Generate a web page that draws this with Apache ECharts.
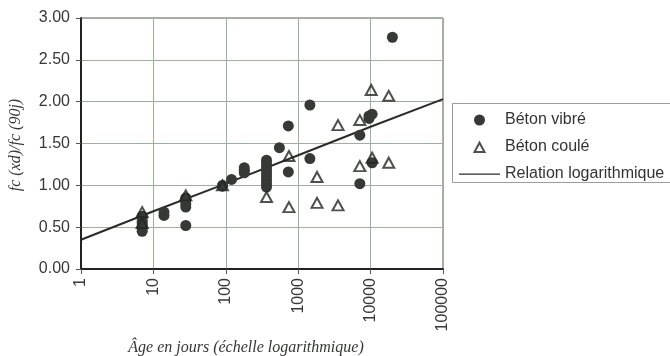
<!DOCTYPE html>
<html>
<head>
<meta charset="utf-8">
<script src="https://cdn.jsdelivr.net/npm/echarts@6/dist/echarts.min.js"></script>
<style>
html,body{margin:0;padding:0;background:#fff;}
#chart{width:670px;height:356px;}
</style>
</head>
<body>
<div id="chart"></div>
<script>
// Béton vibré (circles)
var vibreAge   = [7,7,7,7,7,7,7, 14,14, 28,28,28,28,28, 90,90, 120, 180,180,180, 365,365,365,365,365,365,365,365,365, 550, 730,730, 1450,1450, 7100,7100, 9500,9500, 10500,10500, 20000];
var vibreRatio = [0.45,0.48,0.51,0.54,0.57,0.60,0.63, 0.64,0.68, 0.52,0.74,0.78,0.82,0.85, 1.00,0.99, 1.07, 1.15,1.18,1.21, 0.98,1.02,1.06,1.10,1.14,1.18,1.22,1.26,1.30, 1.45, 1.71,1.16, 1.96,1.32, 1.60,1.02, 1.80,1.83, 1.85,1.27, 2.77];
// Béton coulé (triangles)
var couleAge   = [7,7, 28, 90, 365, 745,745, 1820,1820, 3550,3550, 7100,7100, 10200,10500, 17800,17800];
var couleRatio = [0.68,0.55, 0.88, 1.00, 0.86, 1.35,0.74, 1.10,0.79, 1.72,0.76, 1.78,1.23, 2.14,1.33, 2.07,1.27];
// Relation logarithmique
var logAge   = [1,10,100,1000,10000,100000];
var logRatio = [0.35,0.69,1.02,1.36,1.70,2.03];

var yTicks = ['0.00','0.50','1.00','1.50','2.00','2.50','3.00'];

function pairs(a,b){var r=[];for(var i=0;i<a.length;i++)r.push([a[i],b[i]]);return r;}

var chart = echarts.init(document.getElementById('chart'), null, {renderer:'canvas'});
chart.setOption({
  animation:false,
  backgroundColor:'#fff',
  grid:{left:81,right:227,top:18,bottom:87,show:true,borderColor:'#5a5f5a',borderWidth:1,backgroundColor:'transparent'},
  xAxis:{
    type:'log', logBase:10, min:1, max:100000, splitNumber:5,
    axisLine:{show:true,lineStyle:{color:'#222',width:2}},
    axisTick:{show:true,length:5,lineStyle:{color:'#555'}},
    minorTick:{show:false},
    splitLine:{show:true,lineStyle:{color:'#9fae9f',width:1}},
    axisLabel:{rotate:90,margin:9,fontSize:16,fontFamily:'Liberation Sans, Arial',color:'#353835',
      formatter:function(v){return String(Math.round(v));}}
  },
  yAxis:{
    type:'value', min:0, max:3, interval:0.5,
    axisLine:{show:true,lineStyle:{color:'#222',width:2}},
    axisTick:{show:true,length:5,lineStyle:{color:'#555'}},
    splitLine:{show:true,lineStyle:{color:'#9fae9f',width:1}},
    axisLabel:{margin:11,fontSize:16,fontFamily:'Liberation Sans, Arial',color:'#353835',
      formatter:function(v){return yTicks[Math.round(v/0.5)];}}
  },
  legend:{
    orient:'vertical', left:452, top:103,
    padding:[9,20,6,6], itemGap:11, itemWidth:41, itemHeight:11,
    borderWidth:0,
    textStyle:{fontSize:16,fontFamily:'Liberation Sans, Arial',color:'#333'},
    data:[
      {name:'Béton vibré', icon:'circle'},
      {name:'Béton coulé', icon:'path://M0,0M41,11M15.5,10.5L20.5,1.2L25.5,10.5Z'},
      {name:'Relation logarithmique', icon:'path://M0,0M41,11M0,5L41,5L41,6.3L0,6.3Z'}
    ]
  },
  series:[
    {name:'Relation logarithmique', type:'line', data:pairs(logAge,logRatio), symbol:'none',
      lineStyle:{color:'#2a2c2a',width:2}, itemStyle:{color:'#2a2c2a'}, z:1},
    {name:'Béton vibré', type:'scatter', data:pairs(vibreAge,vibreRatio), symbol:'circle', symbolSize:11,
      itemStyle:{color:'#363936',opacity:1}, z:3},
    {name:'Béton coulé', type:'scatter', data:pairs(couleAge,couleRatio), symbol:'triangle', symbolSize:[11,10],
      itemStyle:{color:'rgba(255,255,255,0)',borderColor:'#222522',borderWidth:2}, z:4}
  ],
  graphic:[
    {type:'rect', z:-1, shape:{x:452.5, y:103.5, width:300, height:79},
      style:{fill:'#fff', stroke:'#9a9f9a', lineWidth:1}},
    {type:'text', x:16, y:145, rotation:Math.PI/2,
      style:{text:'fc (xd)/fc (90j)', font:'italic 16px "Liberation Serif", serif', fill:'#353835', textAlign:'center', textVerticalAlign:'middle'}},
    {type:'text', x:246, y:348,
      style:{text:'Âge en jours (échelle logarithmique)', font:'italic 16px "Liberation Serif", serif', fill:'#353835', textAlign:'center', textVerticalAlign:'middle'}}
  ]
});
</script>
</body>
</html>
